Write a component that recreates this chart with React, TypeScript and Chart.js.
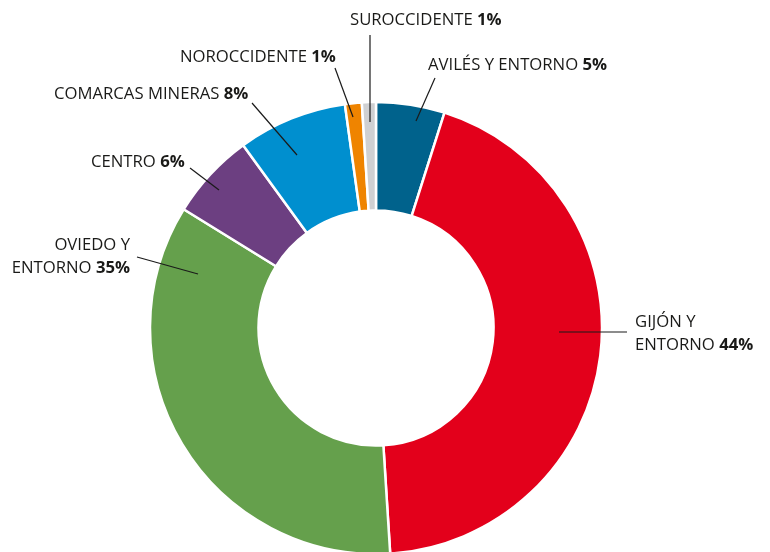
import React, { useEffect, useRef } from "react";
import { Chart, registerables } from "chart.js";

Chart.register(...registerables);

const CATEGORIES = [
  "AVILÉS Y ENTORNO",
  "GIJÓN Y ENTORNO",
  "OVIEDO Y ENTORNO",
  "CENTRO",
  "COMARCAS MINERAS",
  "NOROCCIDENTE",
  "SUROCCIDENTE",
];
const VALUES = [4.9, 44.1, 34.8, 6.2, 7.8, 1.2, 1.0];
const PERCENT_LABELS = ["5%", "44%", "35%", "6%", "8%", "1%", "1%"];
const COLORS = ["#00628c", "#e3001b", "#65a04c", "#6c3f81", "#008fcf", "#ef8400", "#cfd0d2"];

// label layout (text lines split, anchor, leader line)
const LABEL_LINES: string[][] = [
  ["AVILÉS Y ENTORNO"],
  ["GIJÓN Y", "ENTORNO"],
  ["OVIEDO Y", "ENTORNO"],
  ["CENTRO"],
  ["COMARCAS MINERAS"],
  ["NOROCCIDENTE"],
  ["SUROCCIDENTE"],
];
const LABEL_LAYOUT = [
  { x: 428, y: 70, align: "left", leader: [435, 78, 416, 121] },
  { x: 635, y: 327, align: "left", leader: [559, 332, 627, 332] },
  { x: 130, y: 250, align: "right", leader: [137, 257, 198, 274] },
  { x: 91, y: 167, align: "left", leader: [190, 168, 219, 190] },
  { x: 54, y: 99, align: "left", leader: [252, 103, 297, 155] },
  { x: 180, y: 62, align: "left", leader: [335, 68, 353, 117] },
  { x: 350, y: 25, align: "left", leader: [370, 35, 370, 122] },
];
const LINE_HEIGHT = 23;
const FONT_FAMILY = "'Open Sans', 'Noto Sans', sans-serif";
const FONT_SIZE = 16.7;

const labelPlugin = {
  id: "leaderLabels",
  afterDraw(chart: any) {
    const ctx = chart.ctx as CanvasRenderingContext2D;
    ctx.save();
    ctx.strokeStyle = "#1a1a1a";
    ctx.lineWidth = 1.2;
    ctx.fillStyle = "#1a1a18";
    ctx.textBaseline = "alphabetic";
    ctx.textAlign = "left";
    const normal = `400 ${FONT_SIZE}px ${FONT_FAMILY}`;
    const bold = `700 ${FONT_SIZE}px ${FONT_FAMILY}`;
    LABEL_LAYOUT.forEach((lay, i) => {
      const [x1, y1, x2, y2] = lay.leader;
      ctx.beginPath();
      ctx.moveTo(x1, y1);
      ctx.lineTo(x2, y2);
      ctx.stroke();
      const lines = LABEL_LINES[i];
      lines.forEach((line, li) => {
        const isLast = li === lines.length - 1;
        const segs: [string, string][] = [[line + (isLast ? " " : ""), normal]];
        if (isLast) segs.push([PERCENT_LABELS[i], bold]);
        let total = 0;
        segs.forEach(([t, f]) => {
          ctx.font = f;
          total += ctx.measureText(t).width;
        });
        let x = lay.align === "right" ? lay.x - total : lay.x;
        const y = lay.y + li * LINE_HEIGHT;
        segs.forEach(([t, f]) => {
          ctx.font = f;
          ctx.fillText(t, x, y);
          x += ctx.measureText(t).width;
        });
      });
    });
    ctx.restore();
  },
};

export default function App() {
  const ref = useRef<HTMLCanvasElement | null>(null);
  useEffect(() => {
    if (!ref.current) return;
    const chart = new Chart(ref.current, {
      type: "doughnut",
      data: {
        labels: CATEGORIES,
        datasets: [
          {
            data: VALUES,
            backgroundColor: COLORS,
            borderColor: "#ffffff",
            borderWidth: 2.5,
            hoverOffset: 0,
            clip: false as any,
          },
        ],
      },
      options: {
        responsive: false,
        animation: false,
        radius: 226,
        cutout: "52%",
        rotation: 0,
        layout: { padding: { left: 150, right: 168, top: 104, bottom: 0 } },
        plugins: {
          legend: { display: false },
          tooltip: { enabled: false },
        },
      } as any,
      plugins: [labelPlugin],
    });
    return () => chart.destroy();
  }, []);
  return (
    <div style={{ position: "fixed", left: 0, top: 0, width: 770, height: 552, background: "#fff" }}>
      <canvas ref={ref} width={770} height={552} style={{ display: "block" }} />
    </div>
  );
}
